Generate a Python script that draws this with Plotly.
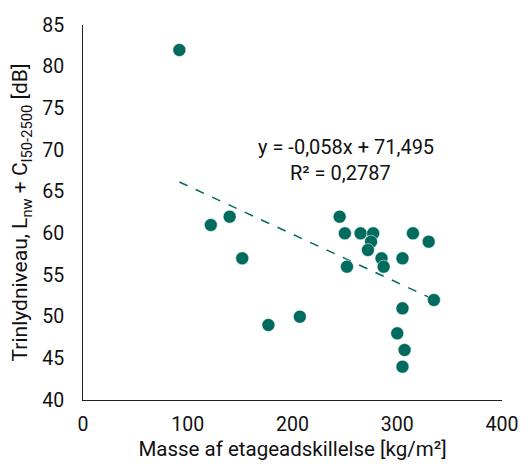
import plotly.graph_objects as go

# Data
masse = [92, 122, 140, 152, 177, 207, 245, 250, 252, 265, 277, 275, 272,
         285, 287, 305, 315, 330, 335, 305, 300, 307, 305]
trinlyd = [82, 61, 62, 57, 49, 50, 62, 60, 56, 60, 60, 59, 58,
           57, 56, 57, 60, 59, 52, 51, 48, 46, 44]

# Linear trend line as displayed
slope = -0.058
intercept = 71.495
eq_text = "y = -0,058x + 71,495"
r2_text = "R² = 0,2787"

x_ticks = [0, 100, 200, 300, 400]
y_ticks = [40, 45, 50, 55, 60, 65, 70, 75, 80, 85]

color = "#006B5E"
font_family = "Roboto, 'DejaVu Sans', sans-serif"
text_color = "#111111"

x_min, x_max = min(masse), max(masse)
trend_x = [x_min, x_max]
trend_y = [intercept + slope * v for v in trend_x]

fig = go.Figure()
fig.add_trace(go.Scatter(
    x=trend_x, y=trend_y, mode="lines",
    line=dict(color=color, width=1.5, dash="dash"),
    hoverinfo="skip", showlegend=False,
))
fig.add_trace(go.Scatter(
    x=masse, y=trinlyd, mode="markers",
    marker=dict(color=color, size=13, line=dict(color="white", width=0.5)),
    showlegend=False,
))

fig.add_annotation(x=251, y=70.4, text=eq_text, showarrow=False,
                   xref="x", yref="y", font=dict(size=20, color=text_color))
fig.add_annotation(x=246, y=67.3, text=r2_text, showarrow=False,
                   xref="x", yref="y", font=dict(size=20, color=text_color))

fig.update_layout(
    width=530, height=469,
    margin=dict(l=83, r=21, t=25, b=64),
    paper_bgcolor="white", plot_bgcolor="white",
    font=dict(family=font_family, size=20, color=text_color),
    xaxis=dict(
        range=[0, 400], tickvals=x_ticks, showgrid=False, zeroline=False,
        showline=True, linecolor="#222", linewidth=1, ticks="",
        ticklabelstandoff=7,
        title=dict(text="Masse af etageadskillelse [kg/m²]", standoff=6,
                   font=dict(size=20.5)),
        tickfont=dict(size=19.5),
    ),
    yaxis=dict(
        range=[40, 85], tickvals=y_ticks, showgrid=False, zeroline=False,
        showline=True, linecolor="#222", linewidth=1, ticks="",
        ticklabelstandoff=14,
        title=dict(text="Trinlydniveau, L<sub>nw</sub> + C<sub>I50-2500</sub> [dB]",
                   standoff=8, font=dict(size=21)),
        tickfont=dict(size=19.5),
    ),
)

fig.write_html("out.html")
